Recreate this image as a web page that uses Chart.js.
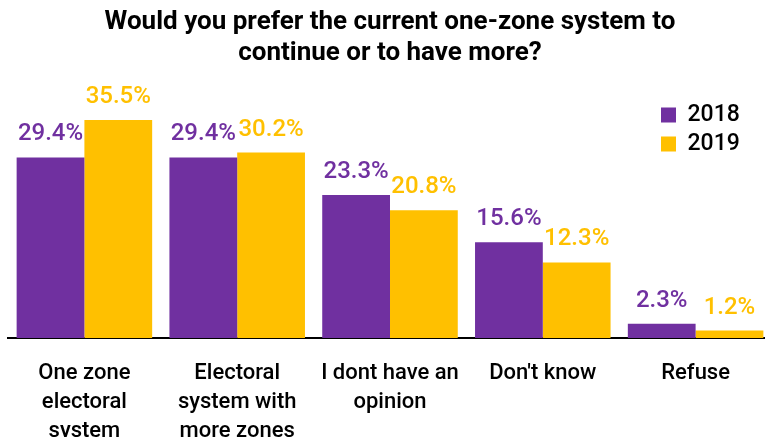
<!DOCTYPE html>
<html>
<head>
<meta charset="utf-8">
<script src="https://cdn.jsdelivr.net/npm/chart.js@4/dist/chart.umd.min.js"></script>
<style>
  html, body { margin: 0; padding: 0; background: #fff; overflow: hidden; }
  #wrap { position: relative; width: 772px; height: 467px; }
</style>
</head>
<body>
<div id="wrap"><canvas id="c"></canvas></div>
<script>
// Survey answers, share of respondents (%)
const categories = [
  ["One zone", "electoral", "system"],
  ["Electoral", "system with", "more zones"],
  ["I dont have an", "opinion"],
  ["Don't know"],
  ["Refuse"]
];
const seriesNames = ["2018", "2019"];
const values2018 = [29.4, 29.4, 23.3, 15.6, 2.3];
const values2019 = [35.5, 30.2, 20.8, 12.3, 1.2];
const titleLines = ["Would you prefer the current one-zone system to", "continue or to have more?"];

const PURPLE = "#7030A0";
const GOLD = "#FFC000";
const FONT = "Roboto, 'DejaVu Sans', sans-serif";

// Value labels above each bar, in the bar's own colour
const valueLabels = {
  id: "valueLabels",
  afterDatasetsDraw(chart) {
    const ctx = chart.ctx;
    ctx.save();
    ctx.font = "500 24px " + FONT;
    ctx.textAlign = "center";
    ctx.textBaseline = "alphabetic";
    chart.data.datasets.forEach((ds, i) => {
      const meta = chart.getDatasetMeta(i);
      ctx.fillStyle = ds.backgroundColor;
      meta.data.forEach((bar, j) => {
        ctx.fillText(ds.data[j].toFixed(1) + "%", bar.x, bar.y - 17);
      });
    });
    ctx.restore();
  }
};

// Place the legend in the upper right corner of the plot area
const legendCorner = {
  id: "legendCorner",
  afterLayout(chart) {
    const lg = chart.legend;
    if (!lg) return;
    lg.left = 655;
    lg.top = chart.chartArea.top + 5;
    lg.right = lg.left + lg.width;
    lg.bottom = lg.top + lg.height;
  }
};

new Chart(document.getElementById("c"), {
  type: "bar",
  data: {
    labels: categories,
    datasets: [
      { label: seriesNames[0], data: values2018, backgroundColor: PURPLE },
      { label: seriesNames[1], data: values2019, backgroundColor: GOLD }
    ]
  },
  options: {
    responsive: true,
    maintainAspectRatio: false,
    animation: false,
    devicePixelRatio: 1,
    layout: { padding: { left: 8, right: 0, top: 0, bottom: 0 } },
    datasets: {
      bar: { categoryPercentage: 0.887, barPercentage: 1.0 }
    },
    scales: {
      x: {
        grid: { display: false, drawTicks: false, tickLength: 0 },
        border: { display: true, color: "#000", width: 2 },
        ticks: {
          color: "#000",
          font: { family: FONT, size: 22, weight: "500", lineHeight: 1.32 },
          padding: 21,
          maxRotation: 0,
          autoSkip: false
        }
      },
      y: {
        display: false,
        min: 0,
        max: 40
      }
    },
    plugins: {
      title: {
        display: true,
        text: titleLines,
        color: "#000",
        font: { family: FONT, size: 26, weight: "bold", lineHeight: 1.2 },
        padding: { top: 7, bottom: 23 }
      },
      legend: {
        display: true,
        position: "chartArea",
        align: "start",
        labels: {
          color: "#000",
          font: { family: FONT, size: 23, weight: "500" },
          boxWidth: 15,
          boxHeight: 15,
          padding: 6
        }
      },
      tooltip: { enabled: false }
    }
  },
  plugins: [valueLabels, legendCorner]
});
</script>
</body>
</html>
